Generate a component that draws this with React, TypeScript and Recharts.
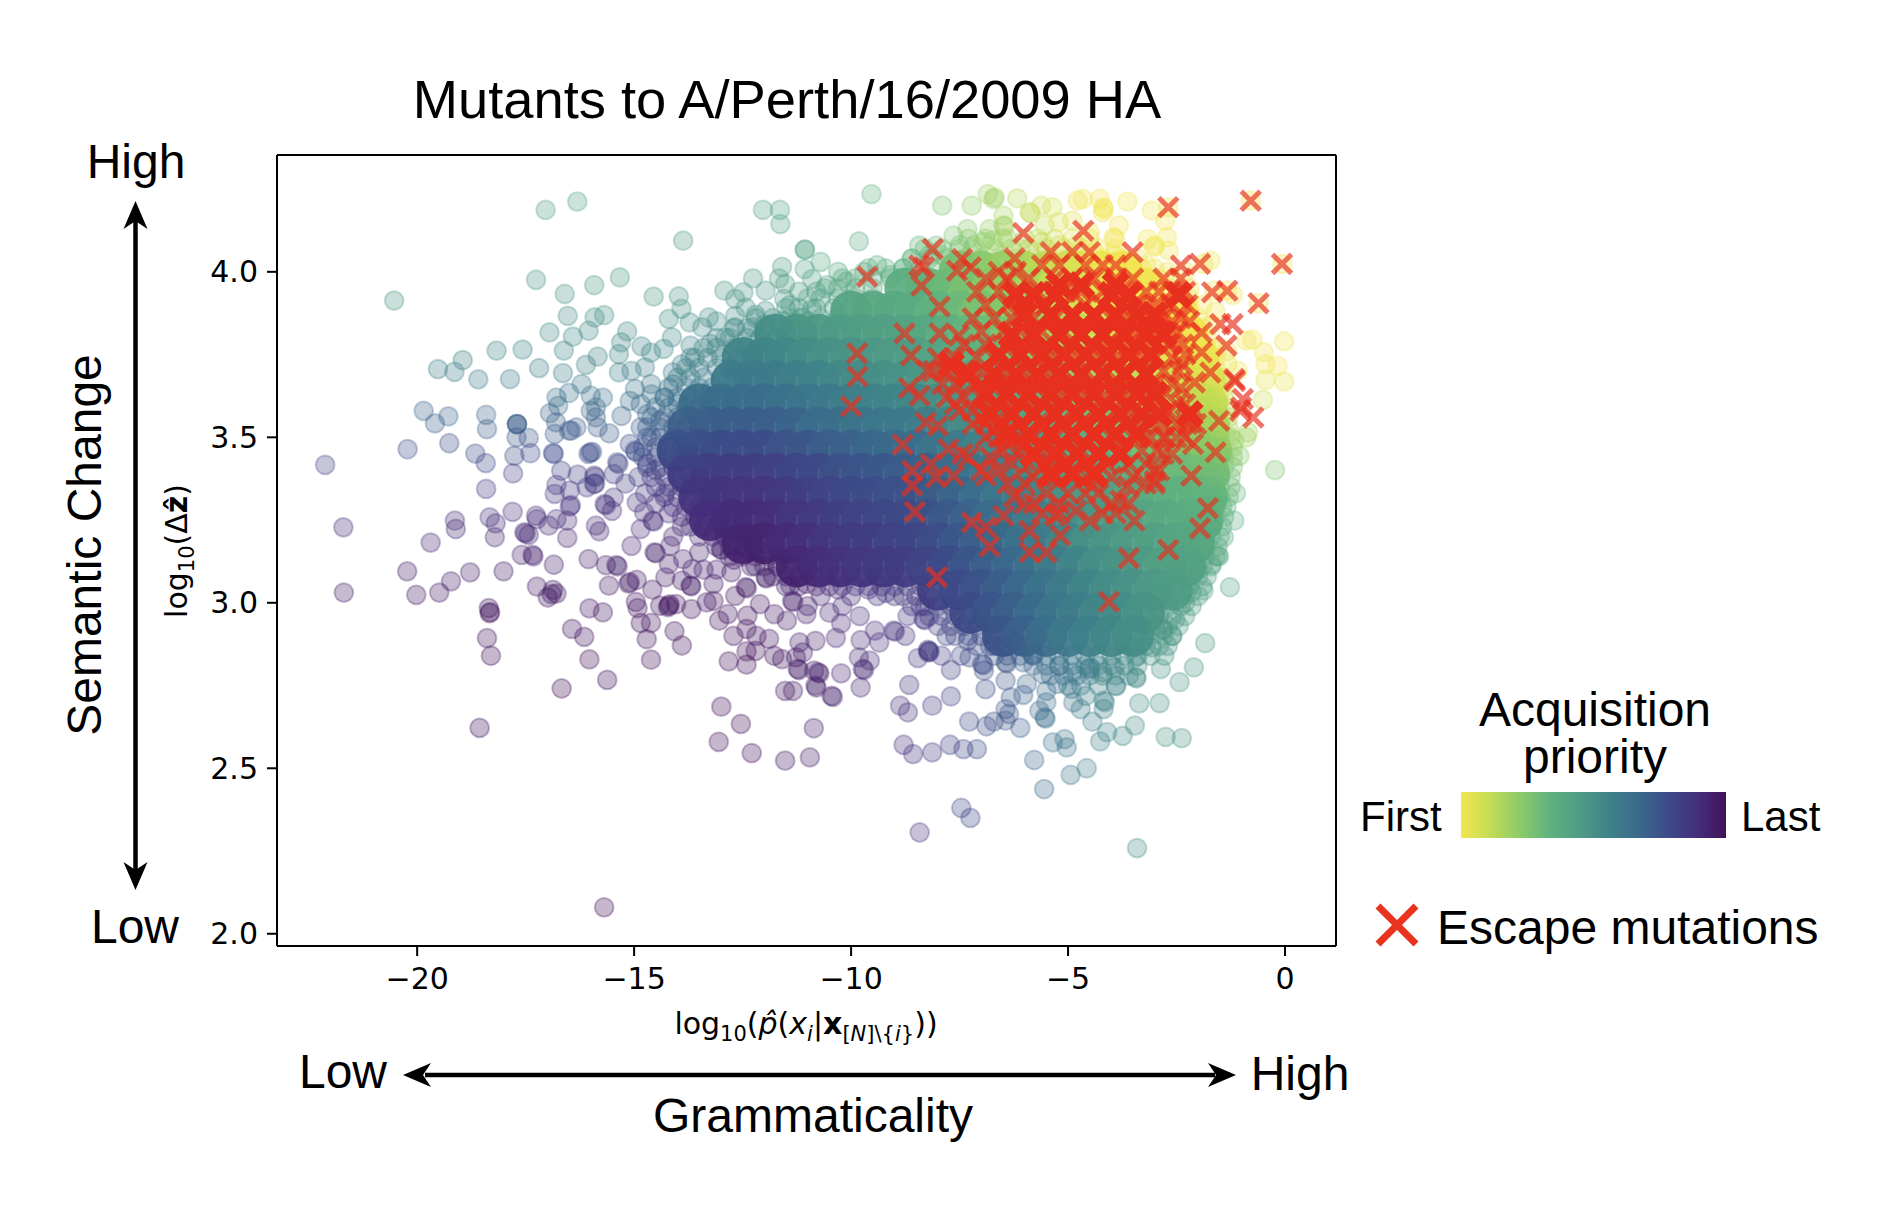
import { ScatterChart, Scatter, XAxis, YAxis, ReferenceLine } from 'recharts'

type Pair = [number, number]
type Row = [number, number[]]

const xTicks = [-20, -15, -10, -5, 0]
const yTicks = [2, 2.5, 3, 3.5, 4]

// dense body of the cloud, read as rows: [y, x values]
const cloudRows: Row[] = [
  [4.0, [-7.5, -7, -6.5, -6, -5.5, -5, -4.75, -4.25, -3.75]],
  [3.95, [-8.75, -8.25, -7.75, -7.25, -6.75, -6.25, -5.75, -5.25, -4.75, -4.25, -3.75, -3.25]],
  [3.88, [-10, -9.5, -9, -8.5, -8, -7.5, -7, -6.5, -6, -5.5, -5, -4.5, -4, -3.5, -3, -2.5]],
  [3.81, [-11.75, -11.25, -10.75, -10.25, -9.75, -9.25, -8.75, -8.25, -7.75, -7.25, -6.75, -6.25, -5.75, -5.25, -4.75, -4.25, -3.75, -3.25, -2.75, -2.25]],
  [3.74, [-12.5, -12, -11.5, -11, -10.5, -10, -9.5, -9, -8.5, -8, -7.5, -7, -6.5, -6, -5.5, -5, -4.5, -4, -3.5, -3, -2.5, -2]],
  [3.67, [-12.75, -12.25, -11.75, -11.25, -10.75, -10.25, -9.75, -9.25, -8.75, -8.25, -7.75, -7.25, -6.75, -6.25, -5.75, -5.25, -4.75, -4.25, -3.75, -3.25, -2.75, -2.25, -1.85]],
  [3.6, [-13.5, -13, -12.5, -12, -11.5, -11, -10.5, -10, -9.5, -9, -8.5, -8, -7.5, -7, -6.5, -6, -5.5, -5, -4.5, -4, -3.5, -3, -2.5, -2, -1.8]],
  [3.53, [-13.75, -13.25, -12.75, -12.25, -11.75, -11.25, -10.75, -10.25, -9.75, -9.25, -8.75, -8.25, -7.75, -7.25, -6.75, -6.25, -5.75, -5.25, -4.75, -4.25, -3.75, -3.25, -2.75, -2.25, -1.75]],
  [3.46, [-14, -13.5, -13, -12.5, -12, -11.5, -11, -10.5, -10, -9.5, -9, -8.5, -8, -7.5, -7, -6.5, -6, -5.5, -5, -4.5, -4, -3.5, -3, -2.5, -2, -1.7]],
  [3.39, [-13.75, -13.25, -12.75, -12.25, -11.75, -11.25, -10.75, -10.25, -9.75, -9.25, -8.75, -8.25, -7.75, -7.25, -6.75, -6.25, -5.75, -5.25, -4.75, -4.25, -3.75, -3.25, -2.75, -2.25, -1.75]],
  [3.32, [-13.5, -13, -12.5, -12, -11.5, -11, -10.5, -10, -9.5, -9, -8.5, -8, -7.5, -7, -6.5, -6, -5.5, -5, -4.5, -4, -3.5, -3, -2.5, -2, -1.8]],
  [3.25, [-13.25, -12.75, -12.25, -11.75, -11.25, -10.75, -10.25, -9.75, -9.25, -8.75, -8.25, -7.75, -7.25, -6.75, -6.25, -5.75, -5.25, -4.75, -4.25, -3.75, -3.25, -2.75, -2.25, -1.9]],
  [3.18, [-12.5, -12, -11.5, -11, -10.5, -10, -9.5, -9, -8.5, -8, -7.5, -7, -6.5, -6, -5.5, -5, -4.5, -4, -3.5, -3, -2.5, -2.1]],
  [3.11, [-11.25, -10.75, -10.25, -9.75, -9.25, -8.75, -8.25, -7.75, -7.25, -6.75, -6.25, -5.75, -5.25, -4.75, -4.25, -3.75, -3.25, -2.75, -2.3]],
  [3.04, [-8, -7.5, -7, -6.5, -6, -5.5, -5, -4.5, -4, -3.5, -3, -2.6]],
  [2.97, [-7.25, -6.75, -6.25, -5.75, -5.25, -4.75, -4.25, -3.75, -3.25]],
  [2.9, [-6.5, -6, -5.5, -5, -4.5, -4, -3.5]],
]

// the soft rim around that body, single translucent mutants
const fringeRows: Row[] = [
  [4.1, [-7.3, -6.9, -6.4, -6, -5.7, -5.3, -4.9, -4.5]],
  [4.07, [-8.3, -7.9, -7.5, -7.2, -6.7, -6.3, -5.9, -5.5, -5.1, -4.7, -4.3, -3.9]],
  [4.04, [-8.6, -8.2, -7.8, -7.4, -7, -6.6, -6.2, -5.8, -5.4, -5, -4.6, -4.2, -3.8, -3.4]],
  [4.01, [-9.6, -9.2, -8.8, -8.4, -8, -7.6, -4, -3.7, -3.3, -3]],
  [3.98, [-10.2, -9.9, -9.5, -9.1, -8.7, -8.3, -7.9, -3.8, -3.5, -3.2, -2.9, -2.6]],
  [3.95, [-10.6, -10.3, -9.9, -9.5, -3.6, -3.3, -3, -2.7, -2.4]],
  [3.92, [-11, -10.7, -10.3, -9.9, -9.5, -3.4, -3.1, -2.8, -2.5, -2.2]],
  [3.89, [-11.5, -11.2, -10.8, -10.4, -10, -3.1, -2.8, -2.5, -2.2]],
  [3.86, [-12.2, -11.8, -11.4, -11.1, -10.7, -10.3, -2.9, -2.6, -2.3, -2]],
  [3.83, [-12.7, -12.4, -12, -11.6, -11.3, -2.8, -2.5, -2.2, -1.9]],
  [3.8, [-13.1, -12.8, -12.4, -12.1, -11.7, -2.7, -2.4, -2.1, -1.8]],
  [3.77, [-13.4, -13.1, -12.7, -12.4, -2.7, -2.3, -2, -1.7]],
  [3.74, [-13.6, -13.3, -13, -12.6, -12.3, -2.5, -2.2, -1.9, -1.6]],
  [3.71, [-13.8, -13.5, -13.1, -12.8, -2.5, -2.2, -1.9, -1.6]],
  [3.68, [-14, -13.7, -13.4, -13, -12.7, -2.4, -2.1, -1.8, -1.5]],
  [3.65, [-14.2, -13.8, -13.5, -13.2, -2.3, -2, -1.7, -1.4]],
  [3.62, [-14.3, -14, -13.7, -13.4, -13.1, -2.3, -2, -1.7, -1.4]],
  [3.59, [-14.5, -14.2, -13.8, -13.5, -2.2, -1.9, -1.6, -1.35]],
  [3.56, [-14.6, -14.3, -14, -13.7, -13.4, -2.2, -1.9, -1.6, -1.3]],
  [3.53, [-14.7, -14.4, -14.1, -13.8, -2.1, -1.8, -1.5, -1.3]],
  [3.5, [-14.7, -14.4, -14.1, -13.8, -13.5, -2.1, -1.8, -1.5, -1.25]],
  [3.47, [-14.8, -14.5, -14.2, -13.9, -2, -1.7, -1.5, -1.2]],
  [3.44, [-14.8, -14.5, -14.2, -13.9, -13.6, -2, -1.7, -1.4, -1.2]],
  [3.41, [-14.7, -14.4, -14.1, -13.8, -2, -1.7, -1.4, -1.2]],
  [3.38, [-14.6, -14.3, -14, -13.7, -13.4, -2, -1.7, -1.5, -1.25]],
  [3.35, [-14.5, -14.2, -13.9, -13.6, -2, -1.7, -1.5, -1.25]],
  [3.32, [-14.3, -14, -13.7, -13.4, -13.1, -2, -1.7, -1.5, -1.3]],
  [3.29, [-14.1, -13.8, -13.5, -13.2, -2.1, -1.8, -1.6, -1.35]],
  [3.26, [-13.9, -13.6, -13.3, -13, -12.7, -2.1, -1.8, -1.6, -1.4]],
  [3.23, [-13.7, -13.4, -13.1, -12.8, -2.2, -1.9, -1.7, -1.45]],
  [3.2, [-13.5, -13.2, -12.9, -12.6, -12.3, -2.2, -1.9, -1.7, -1.5]],
  [3.17, [-13.1, -12.8, -12.5, -12.2, -2.3, -2, -1.8, -1.55]],
  [3.14, [-12.8, -12.5, -12.2, -11.9, -11.6, -2.4, -2.1, -1.85, -1.6]],
  [3.11, [-12.3, -12, -11.7, -11.4, -11.1, -2.5, -2.2, -1.9, -1.7]],
  [3.08, [-11.8, -11.5, -11.2, -10.9, -10.6, -10.3, -10, -9.7, -9.4, -9.1, -8.8, -2.6, -2.3, -2, -1.8]],
  [3.05, [-11.2, -10.8, -10.5, -10.2, -9.9, -9.6, -9.3, -9, -8.7, -8.4, -2.8, -2.5, -2.2, -1.9]],
  [3.02, [-9.4, -9, -8.8, -8.5, -8.2, -2.9, -2.6, -2.3, -2]],
  [2.99, [-8.6, -8.3, -8, -7.7, -3, -2.7, -2.4, -2.15]],
  [2.96, [-8.2, -7.9, -7.6, -7.3, -3.2, -2.9, -2.6, -2.3]],
  [2.93, [-8, -7.7, -7.4, -7.1, -6.8, -3.3, -3, -2.7, -2.45]],
  [2.9, [-7.6, -7.3, -7, -6.7, -6.4, -3.4, -3.1, -2.8, -2.6]],
  [2.87, [-7.1, -6.8, -6.5, -6.2, -5.9, -5.6, -3.5, -3.2, -2.9, -2.7]],
  [2.84, [-6.7, -6.4, -6.1, -5.8, -5.5, -5.2, -4.9, -4.6, -4.3, -4, -3.7, -3.4, -3.1]],
  [2.81, [-5.8, -5.5, -5.2, -4.9, -4.6, -4.3, -4, -3.7, -3.4]],
  [2.78, [-5.4, -5.1, -4.8, -4.5, -4.2, -3.9, -3.6]],
  [2.75, [-5, -4.7, -4.3, -3.9]],
]

const upperLeftPoints: Pair[] = [
  [-17.04, 4.187], [-16.31, 4.212], [-12.03, 4.187], [-11.64, 4.187], [-11.63, 4.144], [-13.87, 4.094], [-11.07, 4.067], [-10.7, 4.03],
  [-20.53, 3.913], [-17.26, 3.976], [-16.6, 3.933], [-15.92, 3.96], [-15.33, 3.983], [-14.55, 3.925], [-13.97, 3.926], [-13.91, 3.888],
  [-14.2, 3.858], [-13.72, 3.847], [-13.43, 3.832], [-13.28, 3.862], [-12.92, 3.943], [-12.48, 3.938], [-12.26, 3.98], [-11.97, 3.943],
  [-11.59, 4.015], [-11.66, 3.98], [-11.52, 3.963], [-11.07, 4.008], [-10.9, 3.978], [-11.54, 3.918], [-11.97, 3.882], [-12.67, 3.918],
  [-12.43, 3.892], [-12.67, 3.867], [-11.6, 3.852], [-11.15, 3.862], [-10.9, 3.887], [-12.67, 3.832], [-12.26, 3.832], [-12.0, 3.84],
  [-16.53, 3.867], [-15.91, 3.862], [-15.69, 3.869], [-16.95, 3.817], [-16.41, 3.804], [-16.05, 3.822], [-15.16, 3.82], [-15.3, 3.787],
  [-14.13, 3.802], [-14.83, 3.775], [-18.17, 3.762], [-17.57, 3.765], [-16.62, 3.762], [-15.84, 3.744], [-18.95, 3.733], [-19.52, 3.706],
  [-19.14, 3.698], [-18.59, 3.675], [-17.86, 3.676], [-17.19, 3.709], [-16.64, 3.694], [-16.11, 3.719], [-15.35, 3.751], [-15.35, 3.696],
  [-15.06, 3.701], [-14.75, 3.711], [-14.61, 3.756], [-14.32, 3.767], [-14.11, 3.696], [-13.7, 3.777], [-13.7, 3.741], [-13.25, 3.782],
  [-16.21, 3.661], [-16.5, 3.634], [-16.79, 3.62], [-16.75, 3.595], [-16.94, 3.573], [-16.8, 3.545], [-16.83, 3.51], [-15.72, 3.62],
  [-16.0, 3.626], [-15.88, 3.59], [-16.0, 3.58], [-15.88, 3.56], [-15.84, 3.53], [-15.57, 3.512], [-16.33, 3.53], [-16.5, 3.52],
  [-16.45, 3.52], [-15.29, 3.565], [-15.1, 3.61], [-14.98, 3.646], [-14.61, 3.661], [-14.6, 3.63], [-14.85, 3.6], [-14.7, 3.57],
  [-14.85, 3.53], [-14.6, 3.5], [-14.4, 3.55], [-14.3, 3.62], [-14.1, 3.66], [-14.0, 3.6], [-14.2, 3.47], [-13.9, 3.72],
]

const midLeftPoints: Pair[] = [
  [-19.85, 3.58], [-19.28, 3.563], [-19.59, 3.542], [-18.41, 3.568], [-18.39, 3.525], [-17.7, 3.54], [-17.7, 3.54], [-17.7, 3.54],
  [-17.71, 3.5], [-17.43, 3.498], [-19.26, 3.482], [-20.22, 3.464], [-18.66, 3.451], [-18.42, 3.422], [-17.76, 3.444], [-17.39, 3.452],
  [-16.87, 3.452], [-16.85, 3.45], [-16.01, 3.454], [-16.05, 3.45], [-15.97, 3.456], [-22.12, 3.417], [-17.79, 3.391], [-16.68, 3.399],
  [-16.3, 3.387], [-15.92, 3.384], [-15.9, 3.38], [-15.92, 3.359], [-15.9, 3.36], [-16.09, 3.349], [-18.41, 3.344], [-16.83, 3.329],
  [-16.79, 3.356], [-16.48, 3.339], [-16.48, 3.291], [-16.46, 3.295], [-15.68, 3.298], [-15.65, 3.295], [-15.47, 3.318], [-15.51, 3.278],
  [-15.39, 3.424], [-15.36, 3.42], [-15.47, 3.389], [-15.1, 3.48], [-14.98, 3.46], [-14.96, 3.456], [-17.8, 3.275], [-18.33, 3.258],
  [-18.19, 3.24], [-19.13, 3.248], [-19.11, 3.223], [-21.7, 3.228], [-18.21, 3.198], [-19.69, 3.182], [-17.26, 3.263], [-17.24, 3.253],
  [-17.53, 3.213], [-17.5, 3.21], [-17.43, 3.205], [-16.97, 3.233], [-16.79, 3.253], [-16.54, 3.248], [-16.54, 3.196], [-15.88, 3.233],
  [-15.8, 3.216], [-14.85, 3.223], [-15.06, 3.172], [-14.57, 3.248], [-14.55, 3.245], [-14.77, 3.273], [-14.94, 3.303], [-15.2, 3.36],
  [-14.9, 3.38], [-14.7, 3.42], [-14.5, 3.4], [-14.75, 3.33], [-14.5, 3.3], [-14.3, 3.33], [-14.2, 3.27], [-13.9, 3.23], [-14.1, 3.2],
]

const lowerLeftPoints: Pair[] = [
  [-20.23, 3.095], [-21.69, 3.031], [-20.02, 3.024], [-19.49, 3.031], [-19.22, 3.065], [-18.78, 3.092], [-18.01, 3.095], [-16.85, 3.115],
  [-17.59, 3.145], [-17.34, 3.145], [-17.32, 3.14], [-17.24, 3.049], [-16.87, 3.039], [-16.99, 3.016], [-16.79, 3.028], [-16.9, 3.026],
  [-18.35, 2.984], [-18.33, 2.969], [-18.32, 2.972], [-18.39, 2.893], [-18.3, 2.84], [-18.56, 2.622], [-16.05, 3.132], [-15.65, 3.114],
  [-15.41, 3.114], [-15.38, 3.11], [-15.58, 3.052], [-15.1, 3.062], [-15.13, 3.058], [-14.94, 3.069], [-14.58, 3.04], [-16.03, 2.983],
  [-15.72, 2.971], [-16.43, 2.921], [-16.15, 2.897], [-16.03, 2.829], [-16.67, 2.741], [-15.62, 2.767], [-15.69, 2.08], [-14.96, 3.003],
  [-14.92, 2.984], [-14.85, 2.939], [-14.61, 2.939], [-14.71, 2.89], [-14.61, 2.828], [-14.07, 2.914], [-13.9, 2.871], [-14.4, 2.991],
  [-14.2, 2.991], [-14.18, 2.995], [-14.22, 2.987], [-14.03, 2.996], [-13.68, 2.981], [-13.33, 3.001], [-14.53, 3.152], [-14.5, 3.15],
  [-14.17, 3.172], [-14.2, 3.117], [-14.28, 3.077], [-13.7, 3.052], [-13.68, 3.05], [-13.9, 3.067], [-13.66, 3.102], [-13.87, 3.132],
  [-13.5, 3.152], [-13.17, 3.057], [-13.0, 3.162], [-12.98, 3.16], [-12.43, 3.167], [-12.4, 3.165], [-13.04, 2.946], [-12.84, 2.966],
  [-12.71, 2.9], [-12.41, 2.921], [-12.39, 2.961], [-12.18, 2.9], [-11.89, 2.891], [-12.82, 2.823], [-12.41, 2.813], [-12.41, 2.853],
  [-12.2, 2.855], [-11.77, 2.84], [-11.59, 2.83], [-11.27, 2.835], [-11.23, 2.8], [-11.2, 2.797], [-10.85, 2.795], [-10.82, 2.75],
  [-11.52, 2.734], [-11.34, 2.734], [-12.99, 2.686], [-12.54, 2.634], [-13.05, 2.58], [-12.29, 2.546], [-11.52, 2.523], [-10.95, 2.533],
  [-10.86, 2.621], [-12.43, 3.047], [-12.4, 3.044], [-11.97, 3.077], [-11.95, 3.074], [-12.76, 3.092], [-13.17, 3.006], [-12.67, 3.021],
  [-12.1, 2.996], [-11.77, 2.966], [-11.48, 2.946], [-11.36, 3.006], [-11.33, 3.003], [-11.4, 3.052], [-11.03, 3.057], [-11.03, 2.966],
  [-10.82, 2.885], [-11.19, 2.88], [-11.11, 2.85], [-13.4, 3.1], [-13.1, 3.1], [-12.7, 3.13], [-12.2, 3.11], [-11.7, 3.12], [-11.5, 3.05],
  [-10.7, 3.02], [-10.3, 3.04], [-10.0, 3.02], [-9.6, 3.04], [-9.2, 3.03], [-11.0, 2.99], [-10.5, 2.97], [-10.2, 2.99], [-9.8, 2.96],
]

const bottomPoints: Pair[] = [
  [-10.8, 2.744], [-10.45, 2.719], [-10.42, 2.716], [-9.78, 2.744], [-10.23, 2.787], [-9.73, 2.8], [-9.7, 2.797], [-9.57, 2.825],
  [-9.82, 2.835], [-10.76, 2.79], [-10.73, 2.787], [-10.35, 2.894], [-9.78, 2.887], [-10.23, 2.938], [-9.35, 2.88], [-9.45, 2.916],
  [-9.02, 2.916], [-8.99, 2.913], [-8.75, 2.9], [-8.66, 2.752], [-8.87, 2.689], [-8.69, 2.669], [-8.13, 2.689], [-7.7, 2.717],
  [-8.79, 2.571], [-8.57, 2.543], [-8.13, 2.548], [-7.72, 2.571], [-7.41, 2.558], [-7.1, 2.558], [-8.42, 2.306], [-7.46, 2.38],
  [-7.25, 2.35], [-7.28, 2.641], [-6.88, 2.627], [-6.71, 2.641], [-6.44, 2.644], [-6.1, 2.622], [-6.36, 2.664], [-6.44, 2.679],
  [-6.32, 2.714], [-6.03, 2.722], [-6.9, 2.739], [-6.44, 2.765], [-5.95, 2.755], [-6.94, 2.795], [-6.98, 2.815], [-6.95, 2.812],
  [-6.44, 2.82], [-6.41, 2.817], [-7.7, 2.797], [-7.47, 2.84], [-7.27, 2.835], [-7.31, 2.885], [-7.92, 2.84], [-8.21, 2.855],
  [-8.19, 2.852], [-8.23, 2.858], [-8.22, 2.85], [-8.46, 2.833], [-8.33, 2.951], [-8.3, 2.948], [-7.8, 2.9], [-5.83, 2.845],
  [-5.8, 2.842], [-6.03, 2.82], [-5.58, 2.785], [-5.66, 2.674], [-5.5, 2.699], [-5.54, 2.654], [-5.52, 2.65], [-5.35, 2.578],
  [-5.08, 2.588], [-5.03, 2.563], [-5.78, 2.525], [-5.55, 2.437], [-4.94, 2.48], [-4.57, 2.5], [-4.44, 2.641], [-4.1, 2.609],
  [-4.26, 2.581], [-3.74, 2.598], [-3.46, 2.629], [-2.75, 2.595], [-2.38, 2.591], [-3.41, 2.259], [-3.36, 2.696], [-2.89, 2.697],
  [-2.43, 2.76], [-2.1, 2.805], [-1.84, 2.878], [-4.18, 2.704], [-4.15, 2.7], [-4.18, 2.679], [-4.71, 2.679], [-4.88, 2.699],
  [-3.89, 2.748], [-3.44, 2.775], [-3.42, 2.772], [-2.86, 2.8], [-3.07, 2.865], [-2.78, 2.84], [-4.59, 2.719], [-5.5, 2.734],
  [-3.93, 2.805], [-3.44, 2.835], [-4.5, 2.805], [-4.47, 2.802], [-4.53, 2.8], [-5.25, 2.755], [-4.92, 2.74], [-4.2, 2.79],
  [-4.9, 2.79], [-5.2, 2.81], [-6.7, 2.87], [-6.2, 2.88], [-5.7, 2.9], [-8.7, 2.96], [-8.4, 2.99], [-2.6, 2.9], [-2.9, 2.93],
]

const rightRimPoints: Pair[] = [
  [-2.82, 2.921], [-2.8, 2.918], [-2.53, 2.951], [-1.27, 3.047], [-1.88, 3.037], [-2.15, 3.032], [-1.69, 3.117], [-1.55, 3.142],
  [-1.52, 3.14], [-1.41, 3.198], [-1.17, 3.248], [-2.3, 3.0], [-2.2, 3.08], [-2.0, 3.1], [-2.1, 3.15], [-1.85, 3.2], [-1.75, 3.25],
  [-1.6, 3.29], [-1.13, 3.331], [-1.45, 3.293], [-1.68, 3.394], [-1.05, 3.444], [-0.89, 3.5], [-0.85, 3.515], [-1.17, 3.49],
  [-0.23, 3.401], [-1.5, 3.45], [-1.35, 3.5], [-1.55, 3.53], [-1.33, 3.721], [-1.09, 3.701], [-1.52, 3.611], [-1.52, 3.772],
  [-1.33, 3.76], [-1.45, 3.66], [-0.51, 3.613], [-0.02, 3.668], [-0.45, 3.673], [-0.45, 3.721], [-0.17, 3.716], [-0.49, 3.757],
  [-0.89, 3.792], [-0.75, 3.795], [-0.02, 3.79], [-0.61, 3.905], [-1.33, 3.943], [-1.64, 3.943], [-1.2, 3.93], [-1.72, 4.034],
  [-1.88, 4.024], [-2.68, 4.064], [-3, 4.079], [-3.02, 4.075], [-3.17, 4.099], [-2.72, 4.104], [-3.95, 4.104], [-3.92, 4.1],
  [-3.83, 4.14], [-2.76, 4.155], [-2.69, 4.195], [-3.07, 4.185], [-3.63, 4.212], [-4.19, 4.195], [-4.17, 4.19], [-4.2, 4.18],
  [-4.27, 4.22], [-4.78, 4.215], [-4.66, 4.22], [-0.79, 4.215], [-0.06, 4.024], [-2.2, 3.95], [-1.9, 3.9], [-1.6, 3.88], [-2.1, 3.82],
  [-1.7, 3.84], [-1.9, 3.72], [-1.6, 3.68], [-2.3, 4.0], [-2.7, 4.0], [-3.2, 4.02], [-3.6, 4.03], [-3.9, 4.05], [-1.45, 3.56], [-1.75, 3.6],
]

const topRimPoints: Pair[] = [
  [-9.53, 4.235], [-7.9, 4.2], [-7.22, 4.2], [-6.85, 4.235], [-6.69, 4.225], [-6.72, 4.22], [-6.17, 4.222], [-5.89, 4.18], [-5.86, 4.177],
  [-5.62, 4.2], [-5.36, 4.195], [-6.49, 4.17], [-6.49, 4.14], [-6.46, 4.137], [-5.54, 4.14], [-5.22, 4.15], [-4.9, 4.155], [-9.82, 4.092],
  [-11.06, 4.067], [-8.43, 4.079], [-8.04, 4.079], [-7.64, 4.109], [-7.32, 4.129], [-6.81, 4.129], [-7.16, 4.079], [-6.73, 4.094],
  [-8.2, 4.05], [-7.9, 4.05], [-7.5, 4.08], [-6.95, 4.09], [-6.5, 4.1], [-6.1, 4.07], [-5.6, 4.09], [-5.2, 4.08], [-4.8, 4.08],
  [-4.5, 4.12], [-4.4, 4.06], [-10.3, 4.0], [-10.1, 3.97], [-9.7, 4.0], [-9.4, 4.02], [-9.1, 3.99], [-8.8, 4.01], [-8.6, 4.04],
  [-10.8, 3.94], [-10.55, 3.96], [-11.2, 3.94], [-11.4, 3.9], [-11.0, 3.85], [-12.2, 3.87], [-12.9, 3.8], [-13.1, 3.85],
]

// escape mutations, single crosses that stand clear of the red mass
const escapeOutliers: Pair[] = [
  [-2.69, 4.195], [-0.79, 4.215], [-0.07, 4.024], [-0.61, 3.905], [-6.03, 4.117], [-4.65, 4.124], [-3.51, 4.059], [-6.23, 4.041],
  [-9.63, 3.986], [-8.12, 4.069], [-8.43, 4.019], [-8.32, 4.014], [-8.38, 3.958], [-7.44, 4.039], [-7.56, 4.003], [-7.24, 4.014],
  [-7.96, 3.895], [-8.77, 3.814], [-7.96, 3.814], [-7.52, 3.807], [-9.86, 3.754], [-9.85, 3.684], [-10, 3.594], [-8.62, 3.747],
  [-8.67, 3.649], [-8.42, 3.626], [-8.24, 3.701], [-8.81, 3.478], [-8.28, 3.545], [-8, 3.535], [-7.76, 3.465], [-7.44, 3.45],
  [-8.59, 3.399], [-8.16, 3.419], [-8.59, 3.354], [-8.04, 3.379], [-7.64, 3.384], [-8.53, 3.275], [-6.89, 3.384], [-7.22, 3.243],
  [-6.89, 3.228], [-6.81, 3.17], [-6.49, 3.263], [-6.25, 3.319], [-5.89, 3.218], [-5.89, 3.153], [-5.5, 3.153], [-5.18, 3.203],
  [-5.3, 3.263], [-4.82, 3.278], [-4.5, 3.248], [-4.43, 3.359], [-3.79, 3.309], [-3.47, 3.248], [-3.63, 3.354], [-3, 3.369],
  [-2.16, 3.384], [-1.78, 3.286], [-1.96, 3.225], [-2.69, 3.16], [-3.6, 3.135], [-8.02, 3.077], [-4.06, 3.003], [-2.4, 4.019],
  [-1.96, 4.024], [-1.68, 3.938], [-1.33, 3.943], [-1.49, 3.842], [-1.21, 3.842], [-1.35, 3.777], [-1.92, 3.817], [-1.92, 3.757],
  [-1.72, 3.696], [-1.17, 3.676], [-0.97, 3.616], [-0.73, 3.56], [-1.01, 3.59], [-1.52, 3.55], [-2.16, 3.545], [-2.12, 3.48],
  [-1.6, 3.455], [-2.64, 3.782], [-2.36, 3.721], [-2.08, 3.666], [-2.8, 3.5], [-1.15, 3.67], [-1.03, 3.58],
]

// crosses of the red mass, read as rows: [y, x values]
const escapeRows: Row[] = [
  [4.06, [-5.4, -4.9, -4.5]],
  [4.02, [-5.6, -5.2, -4.6, -4.2, -3.9]],
  [4.0, [-6.6, -6.2]],
  [3.98, [-6.9, -6.4, -5.9, -5.3, -4.9, -4.4, -3.9, -3.5, -2.8, -2.4]],
  [3.94, [-7.1, -6.6, -6.2, -5.7, -5.1, -4.7, -4.2, -3.7, -3.2, -2.9, -2.6, -2.3]],
  [3.9, [-6.9, -6.4, -6, -5.5, -5.1, -4.6, -4.2, -3.8, -3.4, -3, -2.6, -2.25]],
  [3.86, [-7.2, -6.7, -6.3, -5.8, -5.3, -4.9, -4.4, -4, -3.6, -3.1, -2.8, -2.4]],
  [3.85, [-2.6, -2.2]],
  [3.82, [-7, -6.5, -6.1, -5.6, -5.1, -4.7, -4.2, -3.8, -3.4, -2.9, -2.5]],
  [3.78, [-7.4, -6.9, -6.4, -6, -5.5, -5, -4.5, -4.1, -3.6, -3.2, -2.7, -2.35]],
  [3.75, [-2.3]],
  [3.74, [-8, -7.6, -7.1, -6.7, -6.2, -5.7, -5.3, -4.8, -4.3, -3.9, -3.4, -3, -2.6]],
  [3.7, [-8.1, -7.8, -7.4, -7, -6.5, -6, -5.5, -5.1, -4.6, -4.1, -3.7, -3.2, -2.8, -2.45]],
  [3.66, [-7.9, -7.6, -7.2, -6.7, -6.3, -5.8, -5.3, -4.8, -4.4, -3.9, -3.5, -3, -2.6]],
  [3.65, [-2.4]],
  [3.62, [-7.8, -7.4, -7, -6.5, -6, -5.5, -5.1, -4.6, -4.2, -3.7, -3.2, -2.85]],
  [3.6, [-7.6, -6.6, -2.5, -2.3]],
  [3.58, [-7.5, -7.2, -6.8, -6.3, -5.8, -5.4, -4.9, -4.4, -3.9, -3.5, -3, -2.7]],
  [3.56, [-7, -6.6]],
  [3.54, [-7.2, -6.9, -6.5, -6.1, -5.6, -5.2, -4.7, -4.2, -3.7, -3.3, -2.9, -2.5, -2.25, -2.05]],
  [3.52, [-6.7, -6.3]],
  [3.5, [-6.9, -6.6, -6.2, -5.8, -5.3, -4.9, -4.4, -4, -3.5, -3.1, -2.75, -2.5, -2.3]],
  [3.48, [-6.4, -6]],
  [3.46, [-6.5, -6.1, -5.6, -5.2, -4.7, -4.3, -3.8, -3.3, -2.95]],
  [3.45, [-2.6, -2.8]],
  [3.44, [-7.3, -6.8]],
  [3.42, [-6.3, -5.9, -5.4, -5, -4.5, -4.1, -3.6, -3.2]],
  [3.4, [-7, -6.6, -2.9, -3]],
  [3.38, [-5.8, -5.3, -4.9, -4.4, -4, -3.5]],
  [3.36, [-6.4, -6, -3.2, -3]],
  [3.33, [-5.5, -5, -4.6, -4.3]],
  [3.3, [-6, -5.8, -5.2, -4, -3.6]],
  [3.27, [-5.6, -5.2, -4.2, -3.9]],
]

// where crosses pile up so thickly that the red is solid
const escapeHeartRows: Row[] = [
  [3.96, [-5.2, -4.7, -3.9]],
  [3.93, [-6.2, -5.8, -5.3, -4, -3.6, -2.45]],
  [3.87, [-6, -5.4, -4.9, -4.4, -3.9, -3.4, -3]],
  [3.81, [-6.3, -5.8, -5.2, -4.7, -4.2, -3.7, -3.2, -2.8]],
  [3.75, [-6.6, -6.1, -5.6, -5.1, -4.6, -4.1, -3.6, -3.1]],
  [3.72, [-7.7]],
  [3.69, [-7.3, -6.7, -6.2, -5.7, -5.2, -4.7, -4.2, -3.7, -3.2]],
  [3.63, [-6.9, -6.4, -5.9, -5.4, -4.9, -4.4, -3.9, -3.4, -3]],
  [3.57, [-6.8, -6.3, -5.8, -5.3, -4.8, -4.3, -3.8, -3.3, -2.9, -2.2]],
  [3.51, [-6.4, -5.9, -5.4, -4.9, -4.4, -3.9, -3.4]],
  [3.45, [-5.8, -5.3, -4.8, -4.3, -3.8]],
  [3.39, [-5.4, -4.9, -4.4]],
]

const X_DOMAIN: Pair = [-23.23, 1.175]
const Y_DOMAIN: Pair = [1.963, 4.353]

// how far along the acquisition ordering a value puts a point
const xShare: Pair[] = [[-12, 0], [-10, 0.08], [-8.5, 0.12], [-7.3, 0.2], [-6.4, 0.26], [-5.5, 0.34], [-4.4, 0.43], [-2.75, 0.52], [-1, 0.56], [0, 0.58]]
const yShare: Pair[] = [[2.8, 0], [3, 0.02], [3.2, 0.08], [3.3, 0.12], [3.4, 0.17], [3.55, 0.3], [3.7, 0.42], [3.9, 0.52], [4.2, 0.58]]

const lookup = (table: Pair[], v: number) => {
  if (v <= table[0][0]) return table[0][1]
  for (let i = 1; i < table.length; i++) {
    if (v <= table[i][0]) {
      const [a, b] = table[i - 1]
      const [c, d] = table[i]
      return b + ((v - a) / (c - a)) * (d - b)
    }
  }
  return table[table.length - 1][1]
}

// colour bar of the figure, from last to first
const barColors = ['#421159', '#45307c', '#3c4c88', '#3a6b8c', '#3f8389', '#4f9c85', '#60b27f', '#8ccb68', '#c3dc55', '#f3e64f']

const hex = (c: string) => [1, 3, 5].map((i) => parseInt(c.slice(i, i + 2), 16))

const pointColor = (x: number, y: number) => {
  const t = Math.min(1, lookup(xShare, x) + lookup(yShare, y)) * (barColors.length - 1)
  const i = Math.min(barColors.length - 2, Math.floor(t))
  const a = hex(barColors[i])
  const b = hex(barColors[i + 1])
  const m = a.map((v, k) => Math.round(v + (b[k] - v) * (t - i)))
  return `rgb(${m[0]},${m[1]},${m[2]})`
}

const toTable = (pairs: Pair[]) => pairs.map(([x, y]) => ({ x, y, fill: pointColor(x, y) }))
const rowsToPairs = (rows: Row[]) => rows.flatMap(([y, xs]) => xs.map((x) => [x, y] as Pair))

const cloudData = toTable(rowsToPairs(cloudRows))
const mutantData = toTable([
  ...rowsToPairs(fringeRows), ...upperLeftPoints, ...midLeftPoints, ...lowerLeftPoints, ...bottomPoints, ...rightRimPoints, ...topRimPoints,
])
const heartData = toTable(rowsToPairs(escapeHeartRows))
const escapeData = toTable([...rowsToPairs(escapeRows), ...escapeOutliers])

const RED = '#e8301f'
const SANS = '"Liberation Sans", Arial, sans-serif'
const DEJAVU = '"DejaVu Sans", sans-serif'

function CloudDot(p: any) {
  return <circle cx={p.cx} cy={p.cy} r={21} fill={p.payload.fill} fillOpacity={0.92} />
}

function MutantDot(p: any) {
  const c = p.payload.fill
  return <circle cx={p.cx} cy={p.cy} r={9.4} fill={c} fillOpacity={0.3} stroke={c} strokeOpacity={0.3} strokeWidth={2} />
}

const crossPath = (cx: number, cy: number, h: number) =>
  `M${cx - h} ${cy - h}L${cx + h} ${cy + h}M${cx - h} ${cy + h}L${cx + h} ${cy - h}`

function HeartCross(p: any) {
  return <path d={crossPath(p.cx, p.cy, 11)} stroke={RED} strokeWidth={9} fill="none" />
}

function EscapeCross(p: any) {
  return <path d={crossPath(p.cx, p.cy, 9.5)} stroke={RED} strokeOpacity={0.68} strokeWidth={5} fill="none" />
}

function Arrowhead({ x, y, angle }: { x: number; y: number; angle: number }) {
  return <path d="M0 0L-28 -12L-20 0L-28 12Z" fill="#000" transform={`translate(${x} ${y}) rotate(${angle})`} />
}

function Annotations() {
  const big = { fontFamily: SANS, fontSize: 48, fill: '#000' }
  const small = 21
  return (
    <svg width={1880} height={1206} style={{ position: 'absolute', left: 0, top: 0, pointerEvents: 'none' }}>
      <defs>
        <linearGradient id="priorityBar" x1="0" x2="1" y1="0" y2="0">
          {[...barColors].reverse().map((c, i) => (
            <stop key={c} offset={i / (barColors.length - 1)} stopColor={c} />
          ))}
        </linearGradient>
      </defs>
      <text x={787} y={118} textAnchor="middle" fontFamily={SANS} fontSize={54.3} fill="#000">Mutants to A/Perth/16/2009 HA</text>

      <text x={136} y={178} textAnchor="middle" {...big}>High</text>
      <text x={135} y={943} textAnchor="middle" {...big}>Low</text>
      <text transform="translate(101 545) rotate(-90)" textAnchor="middle" {...big}>Semantic Change</text>
      <line x1={135.5} y1={220} x2={135.5} y2={870} stroke="#000" strokeWidth={4.5} />
      <Arrowhead x={135.5} y={201} angle={-90} />
      <Arrowhead x={135.5} y={890} angle={90} />

      <text transform="translate(187 551) rotate(-90)" textAnchor="middle" fontFamily={DEJAVU} fontSize={30} fill="#000">
        log<tspan dy={7} fontSize={small}>10</tspan><tspan dy={-7}>(Δ</tspan><tspan fontWeight="bold">ẑ</tspan>)
      </text>
      <text x={806} y={1034} textAnchor="middle" fontFamily={DEJAVU} fontSize={30} fill="#000">
        log<tspan dy={7} fontSize={small}>10</tspan><tspan dy={-7}>(</tspan><tspan fontStyle="italic">p̂</tspan>(<tspan fontStyle="italic">x</tspan>
        <tspan dy={7} fontSize={small} fontStyle="italic">i</tspan><tspan dy={-7}>|</tspan><tspan fontWeight="bold">x</tspan>
        <tspan dy={7} fontSize={small}>[</tspan><tspan fontSize={small} fontStyle="italic">N</tspan><tspan fontSize={small}>]\{'{'}</tspan><tspan fontSize={small} fontStyle="italic">i</tspan><tspan fontSize={small}>{'}'}</tspan><tspan dy={-7}>))</tspan>
      </text>

      <text x={343} y={1088} textAnchor="middle" {...big}>Low</text>
      <text x={1300} y={1090} textAnchor="middle" {...big}>High</text>
      <line x1={425} y1={1075} x2={1215} y2={1075} stroke="#000" strokeWidth={4.5} />
      <Arrowhead x={403} y={1075} angle={180} />
      <Arrowhead x={1236} y={1075} angle={0} />
      <text x={813} y={1132} textAnchor="middle" {...big}>Grammaticality</text>

      <text x={1595} y={726} textAnchor="middle" {...big}>Acquisition</text>
      <text x={1595} y={773} textAnchor="middle" {...big}>priority</text>
      <rect x={1461} y={792} width={265} height={46} fill="url(#priorityBar)" />
      <text x={1360} y={831} {...big} fontSize={42}>First</text>
      <text x={1741} y={831} {...big} fontSize={42}>Last</text>

      <path d="M1378 906L1416 944M1378 944L1416 906" stroke="#e8331f" strokeWidth={7} fill="none" />
      <text x={1437} y={944} {...big}>Escape mutations</text>
    </svg>
  )
}

export default function App() {
  const tick = { fontFamily: DEJAVU, fontSize: 30, fill: '#000' }
  const frame = { stroke: '#000', strokeWidth: 2 }
  return (
    <div style={{ position: 'absolute', left: 0, top: 0, width: 1880, height: 1206, background: '#fff' }}>
      <ScatterChart width={1880} height={1206} margin={{ top: 155, right: 544, bottom: 210, left: 217 }}>
        <XAxis
          type="number"
          dataKey="x"
          domain={X_DOMAIN}
          ticks={xTicks}
          height={50}
          tick={tick}
          tickSize={10}
          tickMargin={12}
          axisLine={frame}
          tickLine={frame}
          interval={0}
          tickFormatter={(v: number) => String(v).replace('-', '−')}
        />
        <YAxis
          type="number"
          dataKey="y"
          domain={Y_DOMAIN}
          ticks={yTicks}
          width={60}
          tick={tick}
          tickSize={10}
          tickMargin={9}
          axisLine={frame}
          tickLine={frame}
          interval={0}
          tickFormatter={(v: number) => v.toFixed(1)}
        />
        <ReferenceLine x={X_DOMAIN[1]} stroke="#000" strokeWidth={2} />
        <ReferenceLine y={Y_DOMAIN[1]} stroke="#000" strokeWidth={2} />
        <Scatter data={cloudData} shape={CloudDot} isAnimationActive={false} />
        <Scatter data={mutantData} shape={MutantDot} isAnimationActive={false} />
        <Scatter data={heartData} shape={HeartCross} isAnimationActive={false} />
        <Scatter data={escapeData} shape={EscapeCross} isAnimationActive={false} />
      </ScatterChart>
      <Annotations />
    </div>
  )
}
